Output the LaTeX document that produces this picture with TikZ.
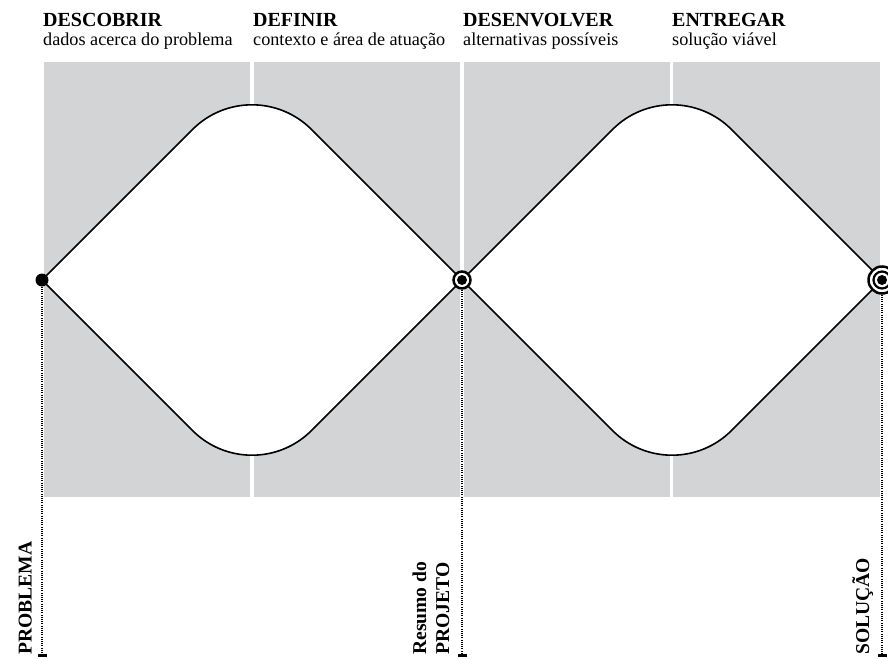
\documentclass[tikz,border=0pt]{standalone}
\usepackage{fontspec}
\setmainfont{Liberation Serif}
\definecolor{panel}{RGB}{211,212,214}
\begin{document}
\begin{tikzpicture}[x=1pt,y=-1pt,
  head/.style={font=\bfseries\fontsize{20}{24}\selectfont, anchor=base west, inner sep=0pt},
  sub/.style={font=\fontsize{18.2}{22}\selectfont, anchor=base west, inner sep=0pt},
  vlabel/.style={font=\bfseries\fontsize{19.6}{23}\selectfont, anchor=base west, inner sep=0pt, rotate=90},
  guide/.style={line width=1.1pt, dash pattern=on 1pt off 1.2pt},
  tickmark/.style={line width=2.5pt},
  outline/.style={line width=1.6pt, fill=white, line join=round},
  gap/.style={white, line width=3.5pt}]
\useasboundingbox (0,0) rectangle (888,659);
\clip (0,0) rectangle (888,659);
% panel
\fill[panel] (44,62) rectangle (880,497);
\foreach \x in {252,462,671.5} \draw[gap] (\x,62) -- (\x,497);
% two diamonds
\foreach \d in {0,420} {
  \begin{scope}[xshift=\d pt]
    \draw[outline] (42,280) -- (192.6,129.4) .. controls (225.4,96.6) and (278.6,96.6) .. (311.4,129.4)
      -- (462,280) -- (311.4,430.6) .. controls (278.6,463.4) and (225.4,463.4) .. (192.6,430.6) -- cycle;
  \end{scope}
}
% guide lines
\coordinate (g0) at (42,655.5);
\coordinate (g1) at (462,655.5);
\coordinate (g2) at (882,655.5);
% points
\node[circle, fill=black, inner sep=0pt, minimum size=13pt] (p0) at (42,280) {};
\node[circle, draw, line width=2.5pt, fill=white, inner sep=0pt, minimum size=17pt] (p1) at (462,280) {};
\node[circle, fill=black, inner sep=0pt, minimum size=10pt] (p1c) at (p1) {};
\node[circle, draw, line width=2.5pt, fill=white, inner sep=0pt, minimum size=27pt] (p2) at (882,280) {};
\node[circle, draw, line width=2.2pt, inner sep=0pt, minimum size=17pt] (p2b) at (p2) {};
\node[circle, fill=black, inner sep=0pt, minimum size=10pt] (p2c) at (p2) {};
\draw[guide] (p0) -- (g0);
\draw[guide] (p1) -- (g1);
\draw[guide] (p2) -- (g2);
\foreach \g in {g0,g1,g2} \draw[tickmark] ([xshift=-4pt]\g) -- ([xshift=5pt]\g);
% headings
\node[head] (h1) at (43,26) {DESCOBRIR};
\node[sub] (s1) at (43,45) {dados acerca do problema};
\node[head] (h2) at (253,26) {DEFINIR};
\node[sub] (s2) at (253,45) {contexto e área de atuação};
\node[head] (h3) at (463,26) {DESENVOLVER};
\node[sub] (s3) at (463,45) {alternativas possíveis};
\node[head] (h4) at (672,26) {ENTREGAR};
\node[sub] (s4) at (672,45) {solução viável};
% bottom labels
\node[vlabel] (lp) at (31.5,655) {PROBLEMA};
\node[vlabel] (lr1) at (426,655) {Resumo do};
\node[vlabel] (lr2) at (449,655) {PROJETO};
\node[vlabel] (ls) at (869,655) {SOLUÇÃO};
\end{tikzpicture}
\end{document}
